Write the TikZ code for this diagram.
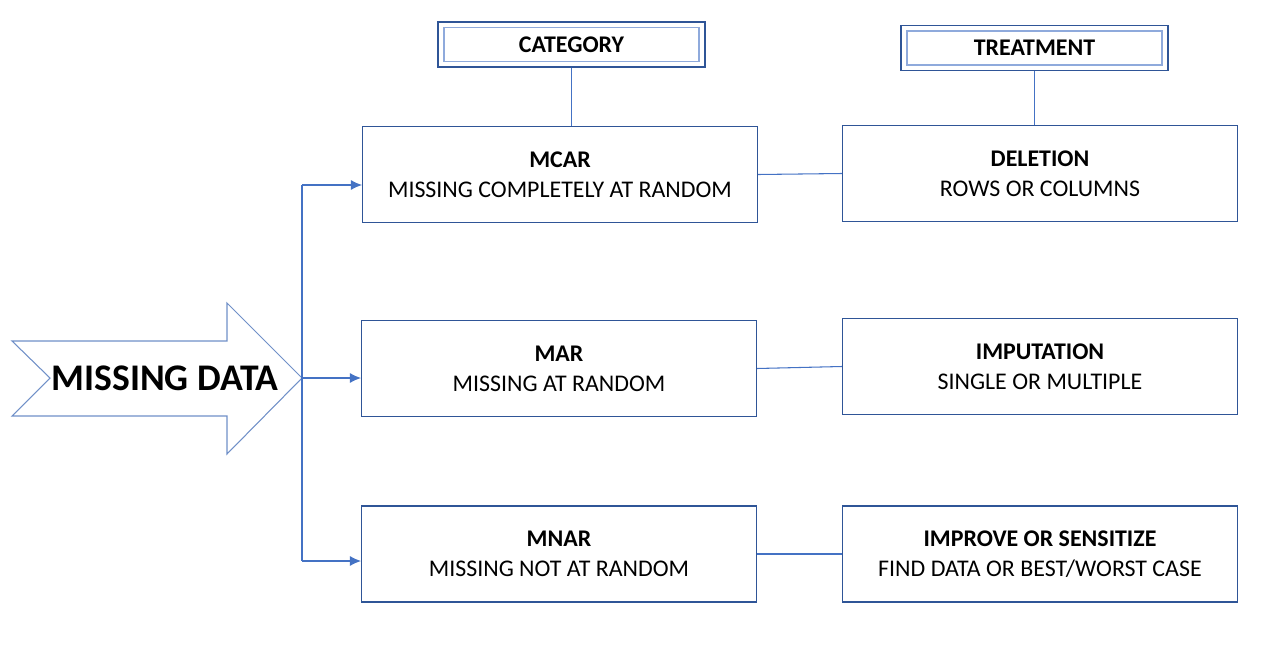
\documentclass[tikz,border=0pt]{standalone}
\usepackage{fontspec}
\setmainfont{Carlito}
\usetikzlibrary{positioning,calc,arrows.meta}
\definecolor{linkblue}{HTML}{4472C4}
\definecolor{boxblue}{HTML}{2F5597}
\definecolor{paleblue}{HTML}{8FAADC}
\definecolor{arrowblue}{HTML}{7090C8}

\begin{document}
\begin{tikzpicture}[
  every node/.style={font=\fontsize{13.6}{17}\selectfont},
  catbox/.style={draw=boxblue,line width=0.6pt,minimum width=7.9cm,minimum height=1.92cm,align=center,inner sep=0pt},
  hdout/.style={draw=boxblue,line width=0.6pt,minimum width=5.34cm,minimum height=0.9cm,inner sep=0pt},
  hdin/.style={draw=paleblue,line width=0.9pt,minimum width=5.1cm,minimum height=0.68cm,inner sep=0pt,font=\fontsize{13.6}{17}\selectfont\bfseries},
  link/.style={draw=linkblue,line width=0.6pt},
  tolink/.style={link,-{Latex[length=2.2mm,width=2mm]}}
  ]
  \useasboundingbox (0,0) rectangle (25.22,-13.16);

  % big arrow
  \draw[draw=arrowblue,line width=0.6pt,fill=white]
  (0.24,-6.82) -- (4.54,-6.82) -- (4.54,-6.06) -- (6.04,-7.56) coordinate (tip)
  -- (4.54,-9.08) -- (4.54,-8.32) -- (0.24,-8.32) -- (1.0,-7.56) -- cycle;
  \node[font=\fontsize{21.4}{25}\selectfont\bfseries] (md) at (3.3,-7.56) {MISSING DATA};

  % categories
  \node[catbox] (mcar) at (11.2,-3.49) {\textbf{MCAR}\\MISSING COMPLETELY AT RANDOM};
  \node[catbox] (mar) at (11.18,-7.37) {\textbf{MAR}\\MISSING AT RANDOM};
  \node[catbox] (mnar) at (11.18,-11.08) {\textbf{MNAR}\\MISSING NOT AT RANDOM};

  % treatments
  \node[catbox] (del) at (20.8,-3.47) {\textbf{DELETION}\\ROWS OR COLUMNS};
  \node[catbox] (imp) at (20.8,-7.33) {\textbf{IMPUTATION}\\SINGLE OR MULTIPLE};
  \node[catbox] (sens) at (20.8,-11.08) {\textbf{IMPROVE OR SENSITIZE}\\FIND DATA OR BEST/WORST CASE};

  % headers
  \node[hdout] (cat) at (11.43,-0.89) {};
  \node[hdin] (catin) at (cat) {CATEGORY};
  \node[hdout] (trt) at (20.69,-0.96) {};
  \node[hdin] (trtin) at (trt) {TREATMENT};

  \coordinate (up) at (6.04,-3.7);
  \coordinate (dn) at (6.04,-11.22);

  \draw[link] (up) -- (dn);
  \draw[link] (cat.south) -- (cat.south |- mcar.north);
  \draw[link] (trt.south) -- (trt.south |- del.north);
  \draw[link] (mcar.east) -- (del.west);
  \draw[link] (mar.east) -- (imp.west);
  \draw[link] (mnar.east) -- (sens.west);

  \draw[tolink] (up) -- (up -| mcar.west);
  \draw[tolink] (tip) -- (tip -| mar.west);
  \draw[tolink] (dn) -- (dn -| mnar.west);
\end{tikzpicture}
\end{document}
